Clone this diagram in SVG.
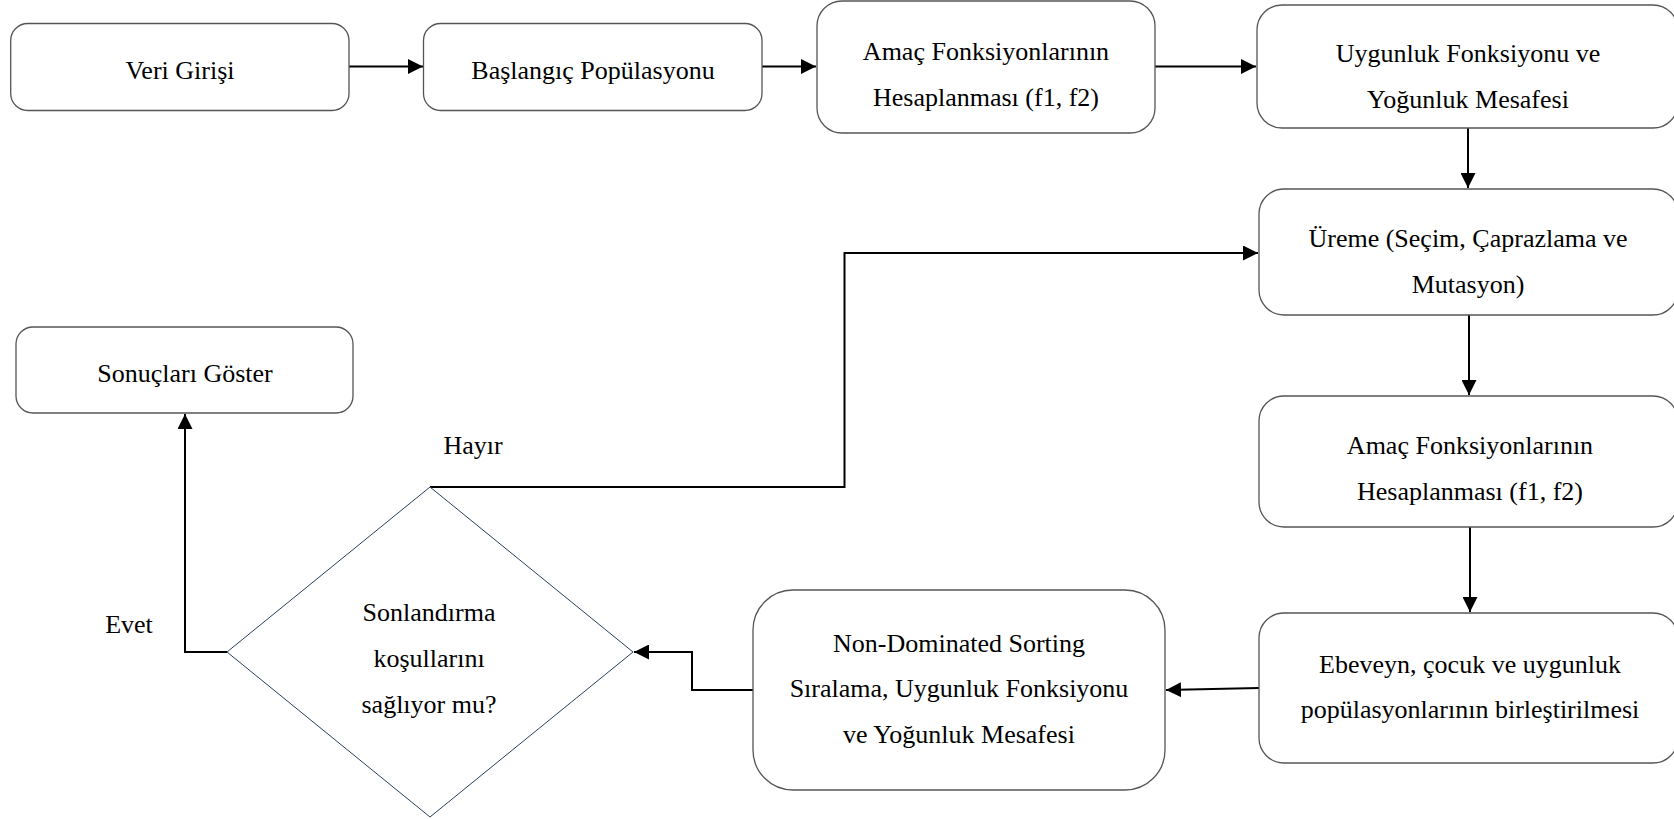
<svg xmlns="http://www.w3.org/2000/svg" width="1674" height="819" viewBox="0 0 1674 819">
<style>
.box{fill:#fff;stroke:#555;stroke-width:1.3}
.dia{fill:#fff;stroke:#2b3f5e;stroke-width:1}
.t{font-family:'Liberation Serif','Times New Roman','DejaVu Serif',serif;font-size:26px;fill:#000;text-anchor:middle}
.c{fill:none;stroke:#000;stroke-width:2}
</style>
<defs>
<marker id="ah" markerWidth="15" markerHeight="15" viewBox="0 0 15 15" refX="15" refY="7.5" orient="auto" markerUnits="userSpaceOnUse">
<path d="M0,0 L15,7.5 L0,15 Z" fill="#000"/>
</marker>
</defs>
<rect width="1674" height="819" fill="#fff"/>
<g id="connectors">
<path class="c" d="M349,66.5 H423" marker-end="url(#ah)"/>
<path class="c" d="M762,66.5 H816" marker-end="url(#ah)"/>
<path class="c" d="M1155,66.5 H1256" marker-end="url(#ah)"/>
<path class="c" d="M1468,128 V188" marker-end="url(#ah)"/>
<path class="c" d="M1469,315 V395" marker-end="url(#ah)"/>
<path class="c" d="M1470,527 V612" marker-end="url(#ah)"/>
<path class="c" d="M1259,688 L1166,690" marker-end="url(#ah)"/>
<path class="c" d="M753,690 H692 V652 H634" marker-end="url(#ah)"/>
<path class="c" d="M430,487 H844.5 V253 H1258" marker-end="url(#ah)"/>
<path class="c" d="M227,652 H185 V414" marker-end="url(#ah)"/>
</g>
<g font-family="'Liberation Serif', 'Times New Roman', serif">
<g id="n1"><rect class="box" x="10.7" y="23.5" width="338.3" height="87" rx="17"/><text class="t" x="180" y="79">Veri Girişi</text></g>
<g id="n2"><rect class="box" x="423.5" y="23.5" width="338.5" height="87" rx="17"/><text class="t" x="593" y="79">Başlangıç Popülasyonu</text></g>
<g id="n3"><rect class="box" x="817" y="1" width="338" height="132" rx="25"/><text class="t" x="986" y="60">Amaç Fonksiyonlarının</text><text class="t" x="986" y="106">Hesaplanması (f1, f2)</text></g>
<g id="n4"><rect class="box" x="1257" y="5" width="421" height="123" rx="25"/><text class="t" x="1468" y="62">Uygunluk Fonksiyonu ve</text><text class="t" x="1468" y="108">Yoğunluk Mesafesi</text></g>
<g id="n5"><rect class="box" x="1259" y="189" width="419" height="126" rx="25"/><text class="t" x="1468" y="247">Üreme (Seçim, Çaprazlama ve</text><text class="t" x="1468" y="293">Mutasyon)</text></g>
<g id="n6"><rect class="box" x="1259" y="396" width="419" height="131" rx="25"/><text class="t" x="1470" y="454">Amaç Fonksiyonlarının</text><text class="t" x="1470" y="500">Hesaplanması (f1, f2)</text></g>
<g id="n7"><rect class="box" x="1259" y="613" width="419" height="150" rx="25"/><text class="t" x="1470" y="673">Ebeveyn, çocuk ve uygunluk</text><text class="t" x="1470" y="718">popülasyonlarının birleştirilmesi</text></g>
<g id="n8"><rect class="box" x="753" y="590" width="412" height="200" rx="40"/><text class="t" x="959" y="652">Non-Dominated Sorting</text><text class="t" x="959" y="697">Sıralama, Uygunluk Fonksiyonu</text><text class="t" x="959" y="743">ve Yoğunluk Mesafesi</text></g>
<g id="n9"><polygon class="dia" points="430,487 633,652 430,817 227,652"/><text class="t" x="429" y="621">Sonlandırma</text><text class="t" x="429" y="667">koşullarını</text><text class="t" x="429" y="713">sağlıyor mu?</text></g>
<g id="n10"><rect class="box" x="16" y="327" width="337" height="86" rx="17"/><text class="t" x="185" y="382">Sonuçları Göster</text></g>
<g id="labels"><text class="t" x="473" y="454">Hayır</text><text class="t" x="129" y="633">Evet</text></g>
</g>
</svg>
